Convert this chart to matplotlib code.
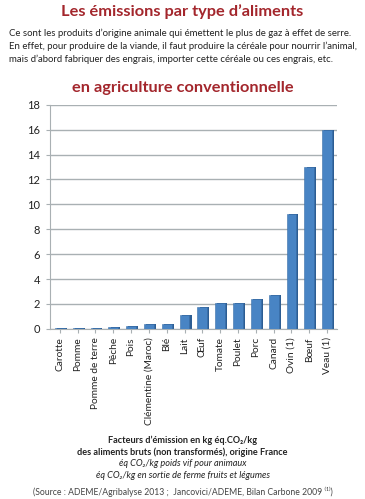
import numpy as np
import matplotlib.pyplot as plt

aliments = ['Carotte', 'Pomme', 'Pomme de terre', 'Pêche', 'Pois',
            'Clémentine (Maroc)', 'Blé', 'Lait', 'Œuf', 'Tomate', 'Poulet',
            'Porc', 'Canard', 'Ovin (1)', 'Bœuf', 'Veau (1)']
emissions = [0.1, 0.1, 0.1, 0.15, 0.2, 0.4, 0.4, 1.1, 1.75, 2.05, 2.1,
             2.4, 2.75, 9.2, 13.0, 16.0]
yticks = [0, 2, 4, 6, 8, 10, 12, 14, 16, 18]

red = '#a3262c'
txt = '#222222'
plt.rcParams['font.family'] = ['Lato', 'DejaVu Sans']

fig = plt.figure(figsize=(3.65, 4.99), dpi=100)

def ypos(px):
    return 1 - px / 499.0

fig.text(0.5, ypos(12), "Les émissions par type d’aliments", ha='center', va='center',
         fontsize=11.8, fontweight='bold', color=red)
intro = ["Ce sont les produits d’origine animale qui émettent le plus de gaz à effet de serre.",
         "En effet, pour produire de la viande, il faut produire la céréale pour nourrir l’animal,",
         "mais d’abord fabriquer des engrais, importer cette céréale ou ces engrais, etc."]
for i, line in enumerate(intro):
    fig.text(0.024, ypos(33 + 13 * i), line, ha='left', va='center', fontsize=6.95, color=txt)
fig.text(0.5, ypos(88), "en agriculture conventionnelle", ha='center', va='center',
         fontsize=11.8, fontweight='bold', color=red)

ax = fig.add_axes([0.137, 0.341, 0.786, 0.449])
x = np.arange(len(aliments))
w = 0.55
# side face for a bit of depth
ax.bar(x + 0.12, emissions, width=w, color='#2c5d93', zorder=2)
ax.bar(x, emissions, width=w, color='#4884c4', edgecolor='#3a6fa8', linewidth=0.4, zorder=3)

ax.set_xlim(-0.55, len(aliments) - 0.45)
ax.set_ylim(0, 18)
ax.set_yticks(yticks)
ax.yaxis.grid(True, color='#a9b0b3', linewidth=1.0)
ax.set_axisbelow(True)
for s in ['top', 'right']:
    ax.spines[s].set_visible(False)
ax.spines['left'].set_color('#a9b0b3')
ax.spines['bottom'].set_color('#a9b0b3')
ax.tick_params(axis='y', length=3, color='#a9b0b3', labelsize=8, labelcolor=txt, pad=4)
ax.set_xticks(x)
ax.set_xticklabels(aliments, rotation=90, fontsize=7.3, color=txt)
ax.tick_params(axis='x', length=3, color='#a9b0b3', pad=3)

caption = [("Facteurs d’émission en kg éq.CO₂/kg", 'normal', 'bold'),
           ("des aliments bruts (non transformés), origine France", 'normal', 'bold'),
           ("éq CO₂/kg poids vif pour animaux", 'italic', 'normal'),
           ("éq CO₂/kg en sortie de ferme fruits et légumes", 'italic', 'normal')]
for i, (line, st, wt) in enumerate(caption):
    fig.text(0.5, ypos(440 + 12 * i), line, ha='center', va='center', fontsize=6.6,
             style=st, fontweight=wt, color=txt)
fig.text(0.5, ypos(492), "(Source : ADEME/Agribalyse 2013 ;  Jancovici/ADEME, Bilan Carbone 2009 ⁽¹⁾)",
         ha='center', va='center', fontsize=6.2, color='#444444')

fig.savefig('out.png', dpi=100)
